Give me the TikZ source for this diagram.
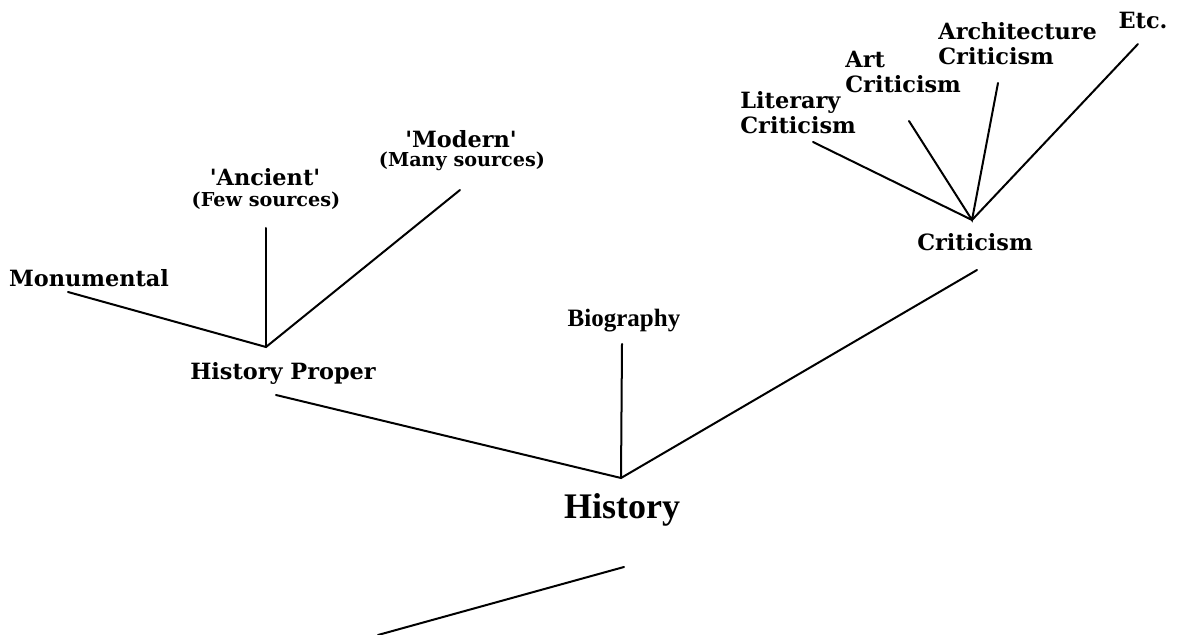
\documentclass[tikz,border=0pt]{standalone}
\usepackage{fontspec}
\newfontfamily\dvserif{DejaVu Serif}
\newfontfamily\libserif{Liberation Serif}
\usetikzlibrary{positioning}
\tikzset{
  lbl/.style={font=\dvserif\bfseries\fontsize{11.2}{12.5}\selectfont, inner sep=0pt, align=left},
  sub/.style={font=\dvserif\bfseries\fontsize{9.6}{11}\selectfont, inner sep=0pt},
  bio/.style={font=\libserif\bfseries\fontsize{12.5}{14}\selectfont, inner sep=0pt},
  big/.style={font=\libserif\bfseries\fontsize{18}{20}\selectfont, inner sep=0pt},
  branche/.style={line width=1pt, line cap=round},
}

\begin{document}
\begin{tikzpicture}[x=0.5pt,y=-0.5pt]
  \useasboundingbox (0,0) rectangle (1178,635);
  % labels
  \node[lbl] (mon) at (89,278) {Monumental};
  \node[lbl] (anc) at (265,177) {'Ancient'};
  \node[sub] (few) at (266,201) {(Few sources)};
  \node[lbl] (mod) at (461,139) {'Modern'};
  \node[sub] (many) at (462,161) {(Many sources)};
  \node[lbl] (hp) at (283,373) {History Proper};
  \node[bio] (biog) at (624,321) {Biography};
  \node[big] (hist) at (622,510) {History};
  \node[lbl] (crit) at (975,242) {Criticism};
  \node[lbl,anchor=north west] (lit) at (740,91) {Literary\\Criticism};
  \node[lbl,anchor=north west] (art) at (845,51) {Art\\Criticism};
  \node[lbl,anchor=north west] (arch) at (938,22) {Architecture\\Criticism};
  \node[lbl] (etc) at (1143,21) {Etc.};
  % branch points and free ends
  \coordinate (hpHub) at (266,347);
  \coordinate (histHub) at (621,478);
  \coordinate (critHub) at (972,220);
  \coordinate (monEnd) at (68,292);
  \coordinate (ancEnd) at (266,228);
  \coordinate (modEnd) at (460,190);
  \coordinate (hpEnd) at (276,395);
  \coordinate (bioEnd) at (622,344);
  \coordinate (critEnd) at (977,270);
  \coordinate (litEnd) at (813,142);
  \coordinate (artEnd) at (909,121);
  \coordinate (archEnd) at (998,83);
  \coordinate (etcEnd) at (1138,44);
  \coordinate (rootTop) at (624,567);
  \coordinate (rootEnd) at (378,635);
  % branches
  \draw[branche] (monEnd) -- (hpHub) -- (modEnd);
  \draw[branche] (ancEnd) -- (hpHub);
  \draw[branche] (hpEnd) -- (histHub) -- (critEnd);
  \draw[branche] (bioEnd) -- (histHub);
  \draw[branche] (litEnd) -- (critHub) -- (etcEnd);
  \draw[branche] (artEnd) -- (critHub) -- (archEnd);
  \draw[branche] (rootTop) -- (rootEnd);
\end{tikzpicture}
\end{document}
